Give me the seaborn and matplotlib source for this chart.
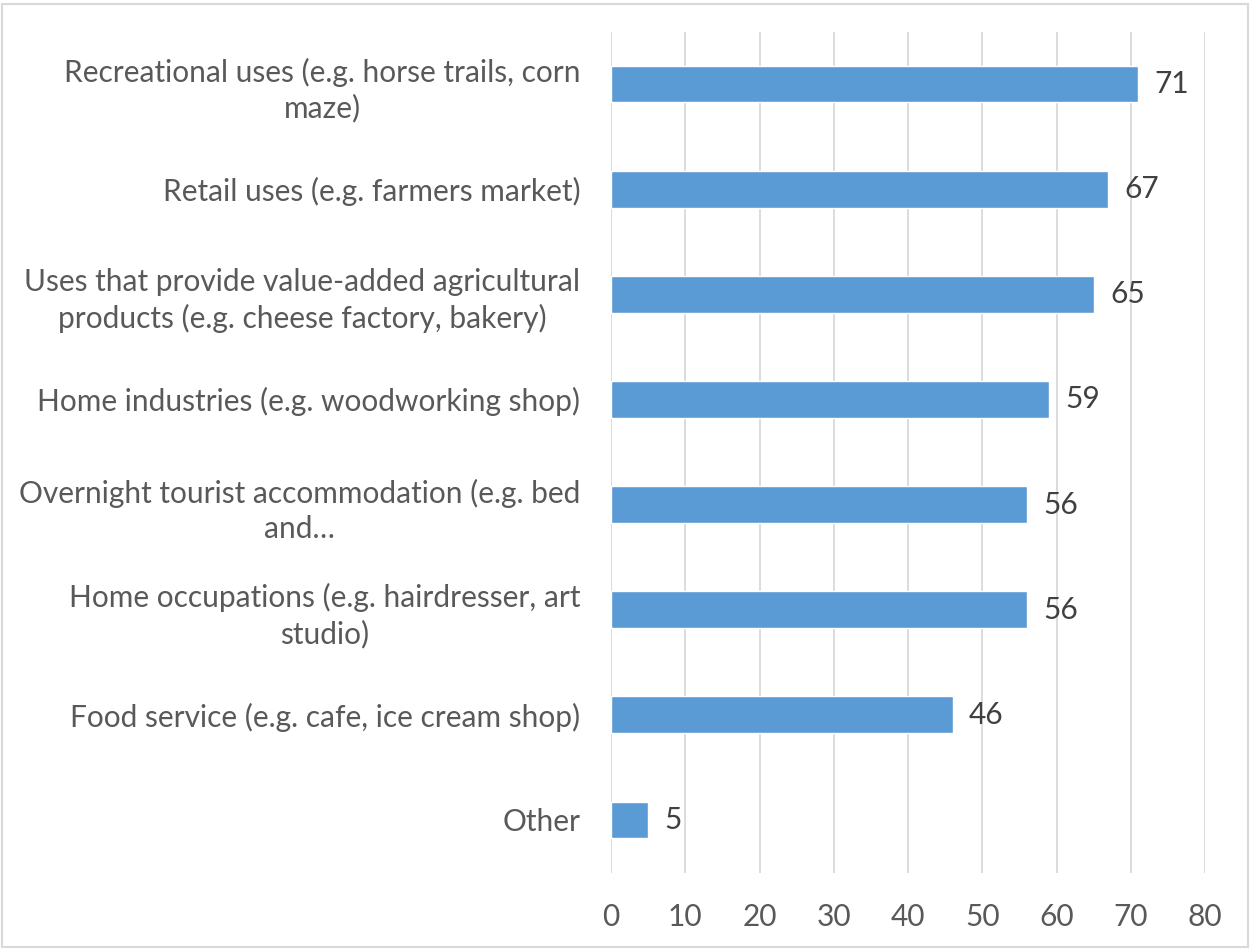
import matplotlib
matplotlib.use("Agg")
import matplotlib.pyplot as plt
import seaborn as sns
import pandas as pd
from matplotlib.patches import Rectangle

categories = [
    "Recreational uses (e.g. horse trails, corn\nmaze)",
    "Retail uses (e.g. farmers market)",
    "Uses that provide value-added agricultural\nproducts (e.g. cheese factory, bakery)",
    "Home industries (e.g. woodworking shop)",
    "Overnight tourist accommodation (e.g. bed\nand…",
    "Home occupations (e.g. hairdresser, art\nstudio)",
    "Food service (e.g. cafe, ice cream shop)",
    "Other",
]
values = [71, 67, 65, 59, 56, 56, 46, 5]
xticks = [0, 10, 20, 30, 40, 50, 60, 70, 80]

sns.set_theme(style="white")
plt.rcParams["font.family"] = ["Lato", "DejaVu Sans"]

df = pd.DataFrame({"cat": categories, "val": values})

fig = plt.figure(figsize=(12.5, 9.49), dpi=100)
W, H = 1250, 949
ax = fig.add_axes([611 / W, 1 - 872.5 / H, (1205 - 611) / W, (872.5 - 31.5) / H])

sns.barplot(data=df, x="val", y="cat", color="#5B9BD5", saturation=1,
            width=0.35, ax=ax, orient="h")

ax.set_xlim(0, 80)
ax.set_xticks(xticks)
ax.set_xticklabels([str(t) for t in xticks])
ax.grid(axis="x", color="#D9D9D9", linewidth=1.3)
ax.grid(axis="y", visible=False)
ax.set_axisbelow(True)
for s in ax.spines.values():
    s.set_visible(False)
ax.set_xlabel("")
ax.set_ylabel("")
ax.tick_params(axis="both", length=0, colors="#595959", labelsize=21.5)
ax.tick_params(axis="y", pad=22)
ax.tick_params(axis="x", pad=22)
for lab in ax.get_yticklabels():
    lab.set_multialignment("center")
    lab.set_linespacing(1.3)

for i, v in enumerate(values):
    ax.text(v + 2.2, i, str(v), va="center", ha="left", fontsize=21.5, color="#404040")

fig.patches.append(Rectangle((2 / W, 2 / H), 1 - 4 / W, 1 - 6 / H, transform=fig.transFigure,
                             fill=False, edgecolor="#D9D9D9", linewidth=1.5))

fig.savefig("out.png", dpi=100)
